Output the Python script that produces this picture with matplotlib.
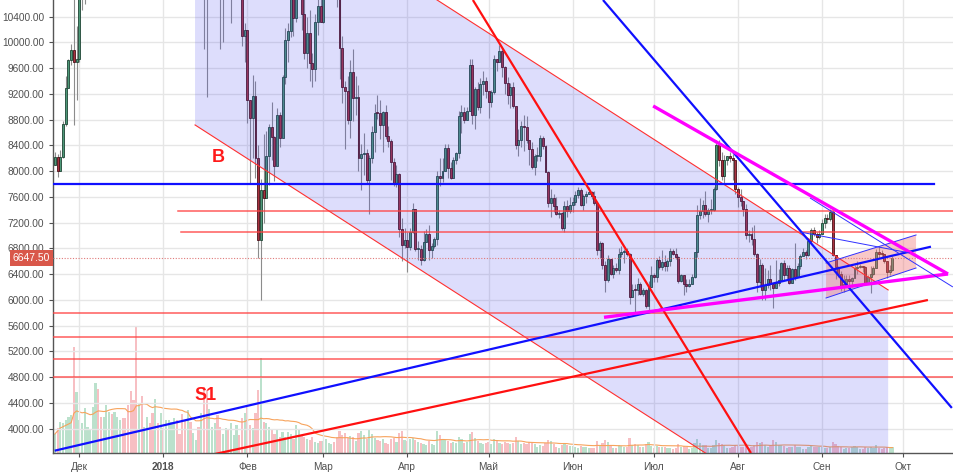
import matplotlib
matplotlib.use("Agg")
import matplotlib.pyplot as plt
import matplotlib.dates as mdates
import matplotlib.transforms as mtransforms
from matplotlib.patches import Polygon
import numpy as np
import pandas as pd

plt.rcParams['font.family'] = ['Liberation Sans', 'DejaVu Sans']

# ---- daily candles, 2017-11-22 .. 2018-09-27 (open = previous close)
first_day = '2017-11-22'
first_open = 8100

close = [
    # Nov
    8220, 8010, 8220, 8740, 9290, 9730, 9890, 9700, 9750,
    # Dec
    10850, 10900, 11300, 11620, 11700, 13750, 16850, 16050, 14850, 15000,
    16700, 17200, 16400, 16500, 17600, 19200, 19100, 18900, 17700, 16300,
    15500, 13800, 14500, 13850, 13900, 15800, 15500, 14300, 14500, 12700, 13900,
    # Jan
    13400, 14800, 15100, 15200, 17100, 17000, 16200, 14900, 14400, 14800,
    13300, 13800, 14200, 13600, 13600, 11400, 11150, 11250, 11500, 12750,
    11500, 10800, 10900, 11300, 11100, 11100, 11400, 11750, 11200, 10100, 10200,
    # Feb
    9100, 8830, 9170, 8200, 6930, 7700, 7580, 8240, 8680, 8530,
    8080, 8880, 8510, 9470, 10030, 10170, 11060, 10380, 11150, 11200,
    10440, 9830, 10150, 9680, 9590, 10310, 10570, 10310,
    # Mar
    10900, 11020, 11430, 11480, 11440, 10720, 9910, 9300, 9240, 8790,
    9540, 9140, 9150, 8200, 8260, 8280, 7870, 8200, 8610, 8910,
    8900, 8720, 8920, 8550, 8470, 8140, 7800, 7950, 7100, 6860, 6930,
    # Apr
    6820, 7060, 7420, 6790, 6790, 6620, 6900, 7020, 6770, 6830,
    6940, 7920, 7890, 8000, 8360, 8050, 7900, 8170, 8280, 8860,
    8920, 8800, 8940, 9650, 8870, 9280, 8990, 9350, 9400, 9240,
    # May
    9070, 9230, 9740, 9700, 9860, 9620, 9370, 9180, 9310, 9010,
    8410, 8480, 8700, 8680, 8480, 8340, 8060, 8240, 8240, 8510,
    8390, 7990, 7510, 7580, 7460, 7330, 7350, 7110, 7460, 7380, 7480,
    # Jun
    7520, 7630, 7700, 7480, 7620, 7650, 7680, 7620, 7500, 6770,
    6880, 6550, 6310, 6640, 6400, 6500, 6460, 6710, 6740, 6760,
    6720, 6050, 6160, 6150, 6250, 6090, 6150, 5900, 6200, 6390,
    # Jul
    6350, 6620, 6510, 6590, 6530, 6600, 6760, 6710, 6660, 6290,
    6380, 6250, 6220, 6250, 6360, 6740, 7320, 7380, 7470, 7330,
    7400, 7400, 7720, 8400, 8170, 7930, 8180, 8230, 8210, 8170, 7730,
    # Aug
    7600, 7530, 7410, 7010, 7030, 6940, 6720, 6280, 6540, 6150,
    6230, 6320, 6250, 6190, 6270, 6310, 6580, 6390, 6490, 6260,
    6480, 6360, 6530, 6690, 6740, 6700, 6910, 7080, 7030, 6980, 7030,
    # Sep
    7190, 7270, 7260, 7370, 6700, 6510, 6410, 6200, 6250, 6330,
    6290, 6340, 6490, 6510, 6520, 6510, 6260, 6350, 6400, 6500,
    6750, 6720, 6710, 6600, 6430, 6460, 6647.5,
]

high = [
    8300, 8260, 8330, 8780, 9480, 9750, 9970, 11400, 10250,
    10950, 11180, 11850, 11650, 11900, 13850, 16900, 17200, 16300, 15700,
    17400, 17550, 17300, 16900, 17900, 19300, 19800, 19100, 18900, 17800,
    17000, 15700, 15600, 14600, 14300, 16400, 16500, 15400, 15000, 14700, 14300,
    14000, 15400, 15600, 15500, 17200, 17200, 17000, 16300, 15300, 14900,
    14900, 14100, 14500, 14500, 14300, 13600, 11700, 12100, 11800, 13000,
    12750, 11900, 11300, 11400, 11700, 11600, 11600, 12000, 11800, 11250, 10300,
    10200, 9100, 9500, 9400, 8400, 7880, 8570, 8630, 8740, 9080,
    8550, 8980, 8920, 9490, 10220, 10300, 11100, 11080, 11250, 11780,
    11290, 10900, 10400, 10500, 9830, 10440, 10860, 11050,
    10960, 11150, 11530, 11520, 11690, 11440, 10890, 10100, 9400, 9480,
    9720, 9900, 9480, 9340, 8420, 8600, 8340, 8250, 8700, 9050,
    9180, 9100, 8940, 9030, 8700, 8500, 8200, 8100, 7970, 7270, 7110,
    7050, 7120, 7500, 7420, 6920, 6850, 7070, 7100, 7170, 6880,
    6970, 8000, 8200, 8200, 8420, 8420, 8150, 8220, 8300, 8930,
    9030, 9000, 9000, 9740, 9750, 9300, 9380, 9440, 9550, 9460,
    9240, 9260, 9800, 9750, 9960, 9920, 9640, 9470, 9370, 9390,
    9020, 8660, 8780, 8870, 8850, 8480, 8460, 8270, 8380, 8560,
    8550, 8400, 8010, 7730, 7650, 7600, 7400, 7360, 7540, 7550, 7600,
    7600, 7690, 7750, 7740, 7640, 7690, 7750, 7690, 7690, 7500,
    6910, 6900, 6610, 6700, 6640, 6550, 6580, 6800, 6830, 6790,
    6800, 6730, 6250, 6240, 6340, 6280, 6190, 6170, 6290, 6530,
    6420, 6650, 6680, 6780, 6700, 6640, 6800, 6790, 6800, 6680,
    6400, 6390, 6330, 6320, 6400, 6750, 7470, 7580, 7550, 7690,
    7430, 7560, 7750, 8480, 8480, 8300, 8250, 8240, 8300, 8270, 8180,
    7750, 7720, 7530, 7490, 7080, 7140, 7160, 6730, 6630, 6580,
    6500, 6470, 6550, 6250, 6620, 6480, 6590, 6620, 6550, 6540,
    6500, 6880, 6570, 6720, 6800, 6770, 6930, 7120, 7140, 7060, 7080,
    7250, 7330, 7340, 7410, 7390, 6700, 6520, 6450, 6390, 6390,
    6390, 6350, 6550, 6600, 6560, 6530, 6520, 6380, 6520, 6520,
    6790, 6830, 6770, 6720, 6600, 6540, 6680,
]

low = [
    8090, 7910, 8000, 8200, 8700, 9300, 9650, 8720, 9100,
    9700, 10500, 10600, 10900, 11450, 11700, 13600, 13800, 13200, 13100,
    14900, 16200, 15900, 16000, 16300, 17300, 18700, 17900, 16400, 15100,
    14600, 10900, 13500, 12600, 13200, 13800, 14700, 13700, 13900, 12200, 12600,
    12800, 12900, 14600, 14100, 14900, 16200, 15700, 13500, 14100, 13400,
    12700, 12800, 13800, 12800, 13300, 9900, 9150, 10800, 11000, 11500,
    11200, 9900, 10000, 10800, 10900, 10300, 10900, 11400, 11100, 9950, 9700,
    8750, 7800, 8200, 7900, 6650, 6000, 7200, 7670, 7780, 8180,
    7850, 8080, 8380, 8530, 9350, 9700, 10080, 10100, 10320, 11100,
    10200, 9740, 9600, 9400, 9300, 9400, 10120, 10310,
    10300, 10780, 11030, 11000, 11400, 10550, 9430, 9060, 8350, 8740,
    8510, 8780, 8870, 8000, 7700, 7940, 7820, 7330, 8120, 8300,
    8810, 8500, 8300, 8500, 8380, 7860, 7770, 7760, 6980, 6600, 6800,
    6430, 6780, 7040, 6760, 6620, 6540, 6610, 6900, 6620, 6650,
    6800, 6850, 7770, 7830, 8000, 7900, 7880, 7900, 8110, 8200,
    8600, 8750, 8800, 8930, 8740, 8650, 8950, 8900, 9190, 9130,
    8830, 9000, 9200, 9550, 9690, 9470, 9200, 9050, 8980, 8980,
    8350, 8230, 8380, 8320, 8440, 8100, 8040, 7940, 8160, 8160,
    8350, 7980, 7440, 7290, 7360, 7320, 7270, 7080, 7060, 7290, 7350,
    7370, 7470, 7590, 7460, 7390, 7500, 7640, 7560, 7480, 6700,
    6650, 6480, 6120, 6280, 6380, 6340, 6440, 6410, 6670, 6570,
    6690, 5940, 6050, 5780, 6080, 6070, 6060, 5880, 5830, 6200,
    6280, 6280, 6480, 6460, 6450, 6450, 6520, 6700, 6640, 6260,
    6280, 6070, 6130, 6200, 6250, 6340, 6670, 7250, 7280, 7300,
    7210, 7340, 7380, 7700, 8080, 7860, 7810, 8100, 8150, 7860, 7640,
    7450, 7460, 7310, 6940, 6900, 6860, 6690, 6130, 6200, 6000,
    6000, 6180, 6150, 5880, 6180, 6210, 6300, 6310, 6320, 6240,
    6260, 6310, 6370, 6480, 6680, 6640, 6690, 6880, 6990, 6890, 6940,
    7020, 7120, 7200, 7220, 6680, 6320, 6360, 6140, 6130, 6250,
    6230, 6200, 6340, 6400, 6490, 6430, 6240, 6250, 6110, 6380,
    6490, 6650, 6670, 6580, 6340, 6390, 6450,
]

# volume (thousands)
volume = [
    19, 25, 31, 30, 33, 36, 38, 106, 61,
    33, 30, 45, 26, 23, 46, 70, 64, 36, 36, 48, 41, 39, 41, 36, 33, 35,
    35, 48, 62, 53, 126, 50, 57, 26, 36, 30, 40, 54, 30, 40,
    25, 33, 33, 31, 35, 33, 19, 39, 33, 43, 31, 20, 13, 26, 40, 66, 63,
    44, 26, 30, 38, 26, 19, 25, 23, 30, 18, 28, 18, 35, 40,
    47, 28, 25, 40, 63, 95, 31, 30, 26, 23, 19, 23, 16, 21, 16, 21, 19,
    14, 28, 23, 17, 16, 14, 13, 16, 11, 10, 12,
    12, 14, 10, 9, 11, 16, 22, 18, 20, 15, 17, 16, 12, 20, 22, 18, 14,
    23, 19, 15, 13, 12, 14, 10, 9, 14, 15, 11, 20, 22, 13,
    12, 14, 15, 13, 11, 10, 9, 8, 12, 9, 8, 22, 18, 14, 13, 12, 10, 11,
    10, 16, 14, 10, 11, 19, 21, 15, 12, 10, 9, 10,
    11, 9, 14, 12, 10, 9, 11, 10, 9, 10, 16, 12, 9, 10, 9, 11, 10, 9, 6,
    8, 7, 10, 13, 12, 9, 6, 5, 8, 10, 8, 7,
    7, 6, 5, 7, 6, 6, 5, 5, 5, 12, 8, 10, 13, 11, 7, 5, 5, 8, 7, 6, 6,
    15, 8, 9, 8, 6, 6, 9, 11, 7,
    5, 7, 6, 6, 6, 5, 5, 4, 5, 9, 6, 7, 6, 4, 5, 10, 14, 10, 8, 8, 5, 5,
    8, 13, 10, 9, 8, 5, 5, 6, 8,
    7, 6, 6, 8, 5, 6, 8, 11, 10, 11, 8, 6, 8, 13, 11, 8, 8, 7, 5, 6, 6,
    8, 6, 6, 4, 4, 6, 7, 6, 6, 6,
    6, 5, 5, 6, 11, 9, 7, 6, 4, 5, 5, 6, 7, 6, 4, 4, 6, 5, 6, 5, 8, 5,
    4, 5, 6, 5, 6,
]

month_labels = ['Дек', '2018', 'Фев', 'Мар', 'Апр', 'Май', 'Июн',
                'Июл', 'Авг', 'Сен', 'Окт']
price_ticks = list(range(4000, 10401, 400))
last_price = 6647.50

# ---- drawings on the chart (date, price)
full_levels = [5800, 5420, 5087, 4808]
part_levels = [('2018-01-06 10:00', 7377), ('2018-01-07 12:00', 7051)]
blue_level = (7800, '2018-10-12 07:00')

channel_dates = ['2018-01-12 17:00', '2018-09-25 10:00']
channel_top = [13076, 6155]
channel_width = 4358

pink_dates = ['2018-09-02 12:00', '2018-10-05 17:00']
pink_top = [6574, 7009]
pink_bottom = [6030, 6496]

trend_lines = [
    # (date1, price1, date2, price2, color, width)
    ('2018-04-25 05:00', 10659, '2018-08-05 19:00', 3622, '#ff1010', 1.6),
    ('2018-06-12 05:00', 10659, '2018-10-18 22:00', 4322, '#1010ff', 1.6),
    ('2017-11-21 22:00', 3658, '2018-10-11 05:00', 6827, '#1010ff', 1.6),
    ('2018-01-20 02:00', 3607, '2018-10-10 02:00', 5999, '#ff1010', 1.6),
    ('2018-06-30 17:00', 9013, '2018-10-17 12:00', 6403, '#ff00ff', 2.4),
    ('2018-06-12 14:00', 5730, '2018-10-17 12:00', 6403, '#ff00ff', 2.4),
    ('2018-08-23 22:00', 7055, '2018-10-03 10:00', 6729, '#3030ff', 0.7),
    ('2018-08-27 14:00', 7584, '2018-10-19 07:00', 6201, '#3030ff', 0.7),
]

labels_on_chart = [('B', '2018-01-21 05:00', 8213), ('S1', '2018-01-16 10:00', 4508)]

x_from = '2017-11-21 07:12'
x_to = '2018-10-19 17:00'
y_from, y_to = 3622, 10659


def dn(s):
    return mdates.date2num(pd.Timestamp(s))


fig = plt.figure(figsize=(9.54, 4.74), dpi=100)
ax = fig.add_axes([53 / 954, 21 / 474, 901 / 954, 453 / 474])
axv = ax.twinx()
ax.set_zorder(axv.get_zorder() + 1)
ax.patch.set_visible(False)

dates = pd.date_range(first_day, periods=len(close), freq='D')
xs = mdates.date2num(dates)
c = np.array(close, dtype=float)
o = np.array([first_open] + close[:-1], dtype=float)
hi = np.array(high, dtype=float)
lo = np.array(low, dtype=float)
up = c >= o

# volume with its average
vol = np.array(volume, dtype=float)
axv.bar(xs[up], vol[up], width=0.8, color='#bbe1cc', lw=0)
axv.bar(xs[~up], vol[~up], width=0.8, color='#f7bfc3', lw=0)
axv.plot(xs, pd.Series(vol).rolling(20, min_periods=1).mean(), color='#f7a35c', lw=0.8)
axv.set_ylim(0, 453)
axv.axis('off')

# candles
ax.vlines(xs, lo, hi, color='#8c8c8c', lw=0.8, zorder=2)
body_lo = np.minimum(o, c)
body_h = np.maximum(np.abs(c - o), 14)
ax.bar(xs[up], body_h[up], bottom=body_lo[up], width=0.72, color='#4d9878',
       edgecolor='#1e4434', lw=0.6, zorder=3)
ax.bar(xs[~up], body_h[~up], bottom=body_lo[~up], width=0.72, color='#a8323f',
       edgecolor='#4a1018', lw=0.6, zorder=3)

# big descending channel
d0, d1 = dn(channel_dates[0]), dn(channel_dates[1])
poly = Polygon([(d0, channel_top[0]), (d1, channel_top[1]),
                (d1, channel_top[1] - channel_width), (d0, channel_top[0] - channel_width)],
               closed=True, facecolor='#4b4bf0', alpha=0.19, edgecolor='none', zorder=4)
ax.add_patch(poly)
ax.plot([d0, d1], channel_top, color='#ff3030', lw=0.8, zorder=5)
ax.plot([d0, d1], [p - channel_width for p in channel_top], color='#ff3030', lw=0.8, zorder=5)

# small pink channel
p0, p1 = dn(pink_dates[0]), dn(pink_dates[1])
ax.add_patch(Polygon([(p0, pink_top[0]), (p1, pink_top[1]), (p1, pink_bottom[1]),
                      (p0, pink_bottom[0])], closed=True, facecolor='#f07070',
                     alpha=0.38, edgecolor='none', zorder=4))
ax.plot([p0, p1], pink_top, color='#3030ff', lw=0.7, zorder=6)
ax.plot([p0, p1], pink_bottom, color='#3030ff', lw=0.7, zorder=6)

# horizontal levels
xl0, xl1 = dn(x_from), dn(x_to)
for lvl in full_levels:
    ax.plot([xl0, xl1], [lvl, lvl], color='#ff4040', lw=1.1, alpha=0.85, zorder=5)
for start, lvl in part_levels:
    ax.plot([dn(start), xl1], [lvl, lvl], color='#ff4040', lw=1.1, alpha=0.85, zorder=5)
ax.plot([xl0, dn(blue_level[1])], [blue_level[0]] * 2, color='#1010ff', lw=1.6, zorder=6)
ax.plot([xl0, xl1], [last_price] * 2, color='#e07a7a', lw=0.8,
        linestyle=(0, (1, 1.5)), zorder=5)

for da, pa, db, pb, col, w in trend_lines:
    ax.plot([dn(da), dn(db)], [pa, pb], color=col, lw=w, zorder=6,
            solid_capstyle='butt')

for txt, d, p in labels_on_chart:
    ax.text(dn(d), p, txt, color='#ff1a1a', fontsize=13, fontweight='bold',
            ha='center', va='center', zorder=7)

# current price tag
tr = mtransforms.blended_transform_factory(ax.transAxes, ax.transData)
ax.text(-0.003, last_price, '%.2f' % last_price, transform=tr, ha='right', va='center',
        color='white', fontsize=7.5, zorder=8, clip_on=False,
        bbox=dict(boxstyle='square,pad=0.3', fc='#d9574a', ec='none'))

# axes
ax.set_xlim(xl0, xl1)
ax.set_ylim(y_from, y_to)
months = pd.date_range('2017-12-01', '2018-10-01', freq='MS')
ax.set_xticks(mdates.date2num(months))
ax.set_xticklabels(month_labels)
ax.set_yticks(price_ticks)
ax.set_yticklabels(['%.2f' % t for t in price_ticks])
for lab in ax.get_xticklabels():
    if lab.get_text() == '2018':
        lab.set_fontweight('bold')
ax.tick_params(axis='both', labelsize=7.3, colors='#505050', length=3, width=0.8)
ax.grid(True, color='#e6e6e6', lw=1)
ax.set_axisbelow(True)
for s in ['top', 'right']:
    ax.spines[s].set_visible(False)
for s in ['left', 'bottom']:
    ax.spines[s].set_color('#555555')
    ax.spines[s].set_linewidth(1)

fig.savefig('out.png', dpi=100)
